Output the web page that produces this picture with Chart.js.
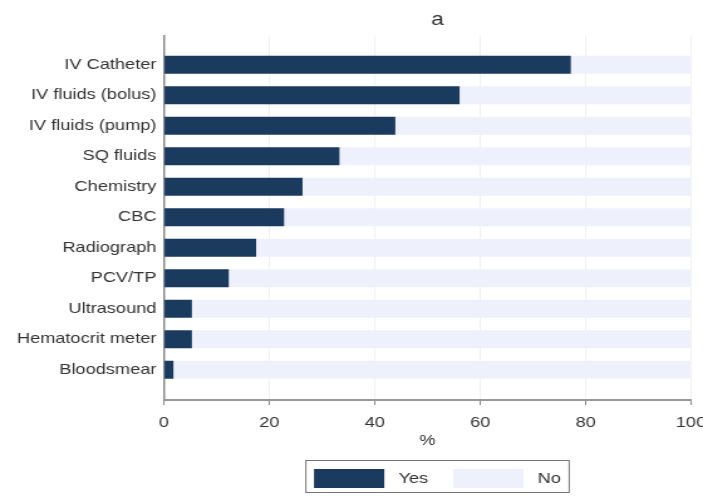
<!DOCTYPE html>
<html>
<head>
<meta charset="utf-8">
<script src="https://cdn.jsdelivr.net/npm/chart.js@4"></script>
<style>
  body { margin: 0; background: #fff; }
  /* chart is laid out narrow and stretched sideways */
  #myCanvas { transform: scaleX(1.2554); transform-origin: 0 0; }
</style>
</head>
<body>
<canvas id="myCanvas" width="560" height="496"></canvas>
<script>
var cats = ["IV Catheter", "IV fluids (bolus)", "IV fluids (pump)", "SQ fluids", "Chemistry", "CBC",
            "Radiograph", "PCV/TP", "Ultrasound", "Hematocrit meter", "Bloodsmear"];
var yesPct = [77.2, 56.1, 43.9, 33.3, 26.3, 22.8, 17.5, 12.3, 5.3, 5.3, 1.8];
var noPct  = [22.8, 43.9, 56.1, 66.7, 73.7, 77.2, 82.5, 87.7, 94.7, 94.7, 98.2];

var FONT = "'Liberation Sans', Arial, sans-serif";

function points(vals) {
  var out = [];
  for (var i = 0; i < vals.length; i++) out.push({ x: vals[i], y: i });
  return out;
}

// title and legend sit a little right of the plot centre
function nudge(box, dx, dy) {
  box.left += dx; box.right += dx;
  box.top += dy; box.bottom += dy;
}

var legendFrame = {
  id: "legendFrame",
  afterLayout: function(chart) {
    nudge(chart.titleBlock, 8, 0);
    nudge(chart.legend, 8, 2);
  },
  // box round the legend entries
  afterDraw: function(chart) {
    var boxes = chart.legend.legendHitBoxes;
    if (!boxes || !boxes.length) return;
    var first = boxes[0], last = boxes[boxes.length - 1];
    var ctx = chart.ctx;
    ctx.save();
    ctx.strokeStyle = "#777";
    ctx.lineWidth = 1;
    ctx.strokeRect(first.left - 6.5, first.top - 8.5, last.left + last.width - first.left + 13, first.height + 13);
    ctx.restore();
  }
};

var myChart = document.getElementById("myCanvas").getContext("2d");
var chart = new Chart(myChart, {
  type: "bar",
  data: {
    datasets: [
      { label: "Yes", data: points(yesPct), backgroundColor: "#1a3a5e", borderWidth: 0 },
      { label: "No",  data: points(noPct),  backgroundColor: "#eef1fb", borderWidth: 0 }
    ]
  },
  options: {
    responsive: false,
    devicePixelRatio: 1,
    animation: false,
    indexAxis: "y",
    barPercentage: 0.74,
    categoryPercentage: 0.8,
    layout: { padding: { left: 8.6, right: 9.6, top: 0, bottom: 0 } },
    scales: {
      x: {
        stacked: true,
        min: 0, max: 100,
        ticks: { stepSize: 20, color: "#333", padding: 9, font: { family: FONT, size: 14.5 } },
        grid: { color: "#f1f1f1", tickColor: "#888", tickLength: 5 },
        border: { color: "#999", width: 2 },
        title: { display: true, text: "%", color: "#333", padding: { top: 0, bottom: -3 }, font: { family: FONT, size: 14.5 } },
        afterFit: function(s) { s.paddingRight = 0; s.paddingLeft = 0; s.height = 47; }
      },
      y: {
        type: "linear",
        stacked: true,
        reverse: true,
        offset: false,
        min: -0.955, max: 10.995,
        afterBuildTicks: function(s) {
          s.ticks = cats.map(function(c, i) { return { value: i }; });
        },
        ticks: {
          color: "#333", padding: 6, autoSkip: false,
          font: { family: FONT, size: 14.5 },
          callback: function(v) { return cats[v]; }
        },
        grid: { display: false, drawTicks: false },
        border: { color: "#888", width: 1.5 },
        afterFit: function(s) { s.width = 122; }
      }
    },
    plugins: {
      title: {
        display: true, text: "a", fullSize: false, color: "#333",
        padding: { top: 9, bottom: 5 },
        font: { family: FONT, size: 18, weight: "normal" }
      },
      legend: {
        position: "bottom", fullSize: false,
        labels: {
          boxWidth: 56, boxHeight: 19, padding: 20, color: "#333",
          font: { family: FONT, size: 14.5 },
          generateLabels: function(chart) {
            return Chart.defaults.plugins.legend.labels.generateLabels(chart).map(function(item) {
              item.text = " " + item.text;
              return item;
            });
          }
        }
      },
      tooltip: { enabled: false }
    }
  },
  plugins: [legendFrame]
});
</script>
</body>
</html>
